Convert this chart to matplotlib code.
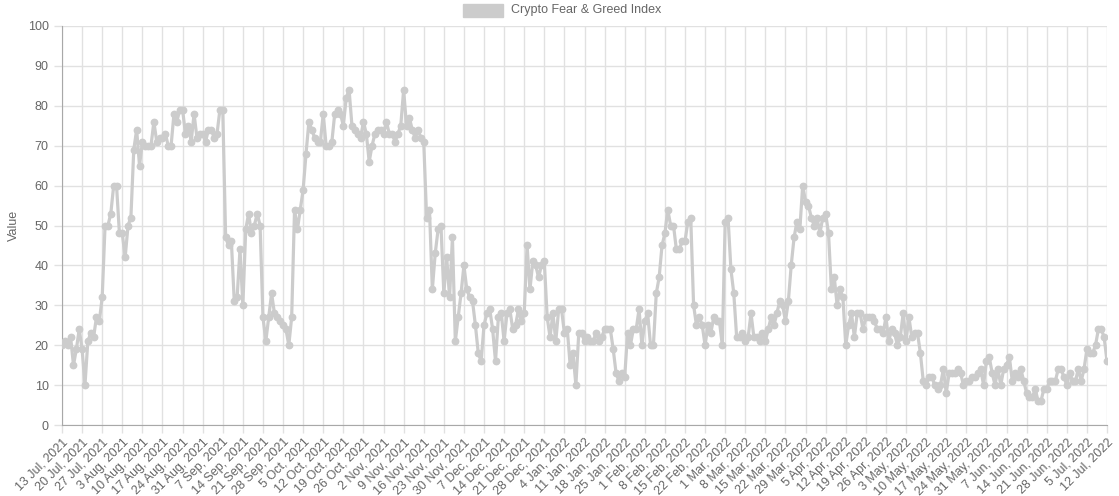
import matplotlib
matplotlib.use('Agg')
import matplotlib.pyplot as plt
from matplotlib.patches import Rectangle
import numpy as np
import pandas as pd

# daily index values, 13 Jul 2021 .. 12 Jul 2022
values = [
    # 13 Jul - 31 Aug 2021
    20, 21, 20, 22, 15, 19, 24, 19, 10, 21, 23, 22, 27, 26, 32, 50, 50, 53, 60, 60,
    48, 48, 42, 50, 52, 69, 74, 65, 71, 70, 70, 70, 76, 71, 72, 72, 73, 70, 70, 78,
    76, 79, 79, 73, 75, 71, 78, 72, 73, 73,
    # Sep - Oct 2021
    71, 74, 74, 72, 73, 79, 79, 47, 45, 46, 31, 32, 44, 30, 49, 53, 48, 50, 53, 50,
    27, 21, 27, 33, 28, 27, 26, 25, 24, 20, 27, 54, 49, 54, 59, 68, 76, 74, 72, 71,
    71, 78, 70, 70, 71, 78, 79, 78, 75, 82, 84,
    # Oct - Dec 2021
    75, 74, 73, 72, 76, 73, 66, 70, 73, 74, 74, 73, 76, 73, 73, 71, 73, 75, 84, 75,
    77, 74, 72, 74, 72, 71, 52, 54, 34, 43, 49, 50, 33, 42, 32, 47, 21, 27, 33, 40,
    34, 32, 31, 25, 18, 16, 25, 28, 29, 24, 16,
    # Dec 2021 - Jan 2022
    27, 28, 21, 28, 29, 24, 25, 29, 26, 28, 45, 34, 41, 40, 37, 40, 41, 27, 22, 28,
    21, 29, 29, 23, 24, 15, 18, 10, 23, 23, 21, 22, 21, 21, 23, 21, 22, 24, 24, 24,
    19, 13, 11, 13, 12, 23, 20, 24,
    # Jan - Mar 2022
    24, 29, 20, 26, 28, 20, 20, 33, 37, 45, 48, 54, 50, 50, 44, 44, 46, 46, 51, 52,
    30, 25, 27, 25, 20, 25, 23, 27, 26, 26, 20, 51, 52, 39, 33, 22, 22, 23, 21, 22,
    28, 22, 22, 21, 23, 21, 24, 27, 25, 28, 31,
    # Mar - May 2022
    30, 26, 31, 40, 47, 51, 49, 60, 56, 55, 52, 50, 52, 48, 52, 53, 48, 34, 37, 30,
    34, 32, 20, 25, 28, 22, 28, 28, 24, 27, 27, 27, 26, 24, 24, 23, 27, 21, 24, 23,
    20, 22, 28, 21, 27, 22, 23, 23, 18, 11,
    # May - Jul 2022
    10, 12, 12, 10, 9, 10, 14, 8, 13, 13, 13, 14, 13, 10, 11, 11, 12, 12, 13, 14,
    10, 16, 17, 13, 10, 14, 10, 14, 15, 17, 11, 13, 12, 14, 11, 8, 7, 7, 9, 6,
    6, 9, 9, 11, 11, 11, 14, 14, 12, 10, 13, 11, 11, 14, 11, 14, 19, 18, 18, 20,
    24, 24, 22, 16,
]
dates = pd.date_range('2021-07-13', periods=len(values), freq='D')
tick_labels = [f"{d.day} {d.strftime('%b')}, {d.year}" for d in dates[::7]]

plt.rcParams['font.family'] = ['Liberation Sans', 'DejaVu Sans']
txt = '#666666'
grid = '#e1e1e1'

fig = plt.figure(figsize=(11.19, 4.96), dpi=100)
ax = fig.add_axes([62 / 1119, 1 - 425 / 496, (1107 - 62) / 1119, (425 - 26) / 496])

x = np.arange(len(values))
ax.plot(x, values, color='#cccccc', lw=2.3, marker='o', markersize=4.6,
        markerfacecolor='#cccccc', markeredgecolor='#cccccc', zorder=3)

ax.set_xlim(0, len(values) - 1)
ax.set_ylim(0, 100)
ax.set_yticks(range(0, 101, 10))
ax.set_xticks(x[::7])
ax.set_xticklabels(tick_labels, rotation=45, ha='right', rotation_mode='anchor')
ax.tick_params(axis='both', colors=grid, labelcolor=txt, labelsize=9, length=6, width=1)
ax.tick_params(axis='x', pad=2)
ax.grid(True, color=grid, lw=1)
ax.set_axisbelow(True)
for s in ['top', 'right']:
    ax.spines[s].set_visible(False)
for s in ['left', 'bottom']:
    ax.spines[s].set_color('#a8a8a8')
ax.set_ylabel('Value', color=txt, fontsize=9)
ax.yaxis.set_label_coords(-42 / 1045, 0.5)

# legend
fig.patches.append(Rectangle((463 / 1119, 1 - 17 / 496), 40 / 1119, 13 / 496,
                             transform=fig.transFigure, facecolor='#cccccc',
                             edgecolor='#cccccc', lw=1))
fig.text(511 / 1119, 1 - 10.5 / 496, 'Crypto Fear & Greed Index', color=txt,
         fontsize=9, va='center', ha='left')

fig.savefig('out.png', dpi=100)
